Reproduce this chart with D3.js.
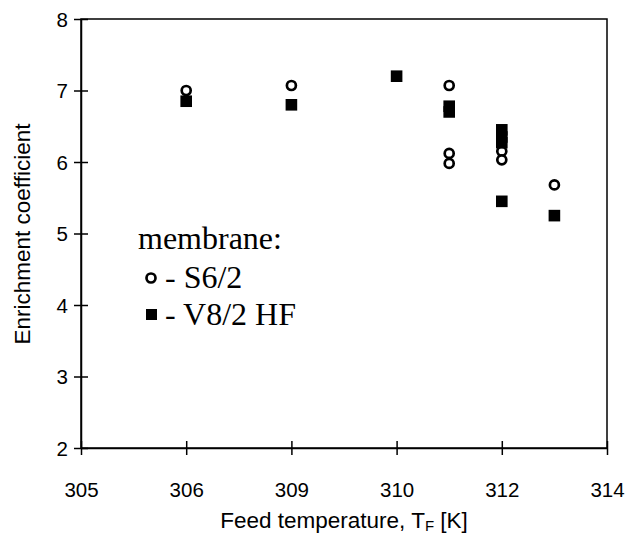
<!DOCTYPE html>
<html><head><meta charset="utf-8">
<script src="https://cdn.jsdelivr.net/npm/d3@7"></script>
<style>body{margin:0;background:#fff}svg{display:block}</style>
</head><body>
<svg id="c" width="627" height="535"></svg>
<script>
const xTickValues = [305, 306, 309, 310, 312, 314];
const yTickValues = [2, 3, 4, 5, 6, 7, 8];
const s62T = [306, 309, 311, 311, 311, 312, 312, 313];
const s62V = [7.0, 7.07, 7.07, 6.12, 5.98, 6.15, 6.03, 5.68];
const v82T = [306, 309, 310, 311, 311, 312, 312, 312, 312, 313];
const v82V = [6.85, 6.8, 7.2, 6.78, 6.7, 6.45, 6.35, 6.27, 5.45, 5.25];

const svg = d3.select("#c");
const L = 81, R = 607, T = 19, B = 448;
const step = (R - L) / (xTickValues.length - 1);
const x = d3.scaleLinear().domain(xTickValues).range(xTickValues.map((d, i) => L + i * step));
const y = d3.scaleLinear().domain([2, 8]).range([B, T]);
const sans = "Liberation Sans, Arial, sans-serif";

svg.append("rect").attr("x", L).attr("y", T).attr("width", R - L).attr("height", B - T)
  .attr("fill", "none").attr("stroke", "#000").attr("stroke-width", 1.5);

const yAxis = svg.append("g").attr("transform", `translate(${L},0)`)
  .call(d3.axisLeft(y).tickValues(yTickValues).tickFormat(d3.format("d")).tickSizeInner(7).tickSizeOuter(0).tickPadding(6));
yAxis.selectAll(".tick line").attr("x2", 7).attr("x1", -7);
const xAxis = svg.append("g").attr("transform", `translate(0,${B})`)
  .call(d3.axisBottom(x).tickValues(xTickValues).tickFormat(d3.format("d")).tickSizeInner(7).tickSizeOuter(0).tickPadding(27));
xAxis.selectAll(".tick line").attr("y1", -7).attr("y2", 7);
[yAxis, xAxis].forEach(g => {
  g.select(".domain").attr("stroke", "#000").attr("stroke-width", 1.5);
  g.selectAll(".tick line").attr("stroke", "#000").attr("stroke-width", 1.5);
  g.selectAll(".tick text").attr("font-family", sans).attr("font-size", 20.5).attr("fill", "#000");
});
yAxis.selectAll(".tick text").attr("dy", "0.35em");

svg.append("g").selectAll("circle").data(s62T.map((t, i) => [t, s62V[i]])).join("circle")
  .attr("cx", d => x(d[0])).attr("cy", d => y(d[1])).attr("r", 4.5)
  .attr("fill", "#fff").attr("stroke", "#000").attr("stroke-width", 2.7);
svg.append("g").selectAll("rect").data(v82T.map((t, i) => [t, v82V[i]])).join("rect")
  .attr("x", d => x(d[0]) - 5.8).attr("y", d => y(d[1]) - 5.8).attr("width", 11.6).attr("height", 11.6)
  .attr("fill", "#000");

svg.append("text").attr("x", 344).attr("y", 528).attr("text-anchor", "middle")
  .attr("font-family", sans).attr("font-size", 22.5).attr("fill", "#000")
  .call(t => {
    t.append("tspan").text("Feed temperature, T");
    t.append("tspan").attr("font-size", 15).attr("dy", 3).text("F");
    t.append("tspan").attr("dy", -3).text(" [K]");
  });
svg.append("text").attr("transform", "translate(30,234) rotate(-90)").attr("text-anchor", "middle")
  .attr("font-family", sans).attr("font-size", 22.5).attr("fill", "#000")
  .text("Enrichment coefficient");

const lf = "Liberation Serif, Times New Roman, serif";
const lg = svg.append("g");
lg.append("text").attr("x", 138).attr("y", 249).attr("font-family", lf).attr("font-size", 32).text("membrane:");
lg.append("circle").attr("cx", 151).attr("cy", 278).attr("r", 4.5).attr("fill", "#fff").attr("stroke", "#000").attr("stroke-width", 2.7);
lg.append("text").attr("x", 165).attr("y", 288).attr("font-family", lf).attr("font-size", 32).text("- S6/2");
lg.append("rect").attr("x", 146).attr("y", 309).attr("width", 11).attr("height", 11).attr("fill", "#000");
lg.append("text").attr("x", 165).attr("y", 325).attr("font-family", lf).attr("font-size", 32).text("- V8/2 HF");
</script>
</body></html>
